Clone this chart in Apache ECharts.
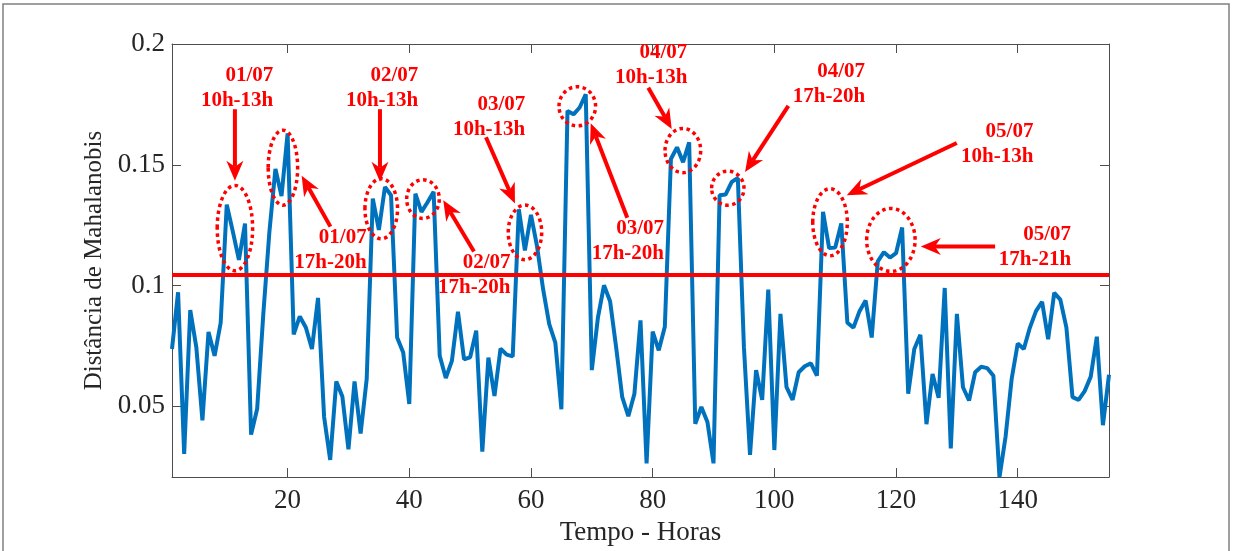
<!DOCTYPE html>
<html><head><meta charset="utf-8">
<script src="https://cdn.jsdelivr.net/npm/echarts@6/dist/echarts.min.js"></script>
<style>html,body{margin:0;padding:0;background:#fff}#c{width:1233px;height:551px}</style>
</head><body><div id="c"></div>
<script>
// ---- data ----
const distance = [
  0.0737,0.0972,0.0303,0.0898,0.0744,0.0442,0.0808,0.0709,0.0846,0.1335,
  0.1223,0.1106,0.1257,0.0383,0.0490,0.0880,0.1220,0.1483,0.1370,0.1630,
  0.0798,0.0872,0.0826,0.0737,0.0949,0.0456,0.0278,0.0603,0.0541,0.0322,
  0.0603,0.0387,0.0613,0.1360,0.1230,0.1408,0.1374,0.0785,0.0723,0.0510,
  0.1380,0.1305,0.1345,0.1388,0.0709,0.0617,0.0688,0.0892,0.0695,0.0703,
  0.0813,0.0312,0.0702,0.0543,0.0739,0.0714,0.0707,0.1316,0.1145,0.1293,
  0.1162,0.0984,0.0840,0.0764,0.0488,0.1723,0.1709,0.1737,0.1792,0.0650,
  0.0867,0.1001,0.0935,0.0744,0.0538,0.0459,0.0552,0.0856,0.0264,0.0809,
  0.0732,0.0829,0.1524,0.1572,0.1511,0.1593,0.0428,0.0497,0.0435,0.0264,
  0.1374,0.1377,0.1429,0.1445,0.0744,0.0299,0.0650,0.0527,0.0983,0.0319,
  0.0883,0.0579,0.0527,0.0641,0.0666,0.0678,0.0627,0.1305,0.1155,0.1157,
  0.1257,0.0846,0.0826,0.0894,0.0938,0.0785,0.1100,0.1138,0.1116,0.1134,
  0.1240,0.0552,0.0737,0.0796,0.0426,0.0634,0.0535,0.0990,0.0326,0.0883,
  0.0579,0.0524,0.0641,0.0664,0.0658,0.0627,0.0207,0.0374,0.0613,0.0760,
  0.0737,0.0826,0.0894,0.0933,0.0778,0.0970,0.0942,0.0826,0.0538,0.0527,
  0.0563,0.0623,0.0788,0.0422,0.0631
];
const threshold = [0.1044];
const xRange = [1, 155];
const yRange = [0.0207, 0.2];
const xTicks = [20, 40, 60, 80, 100, 120, 140];
const yTicks = [0.05, 0.1, 0.15, 0.2];
const labelTexts = ['01/07\n10h-13h','01/07\n17h-20h','02/07\n10h-13h','02/07\n17h-20h','03/07\n10h-13h',
                    '03/07\n17h-20h','04/07\n10h-13h','04/07\n17h-20h','05/07\n10h-13h','05/07\n17h-21h'];

// ---- annotation placement (data coordinates) ----
const ellipses = [ // cx, cy, rx, ry
  [11.34,0.1238,2.91,0.01767],[19.23,0.1488,2.42,0.01553],[35.39,0.1318,2.68,0.01245],
  [42.25,0.1358,2.68,0.00801],[59.01,0.1220,2.75,0.0113],[67.61,0.1742,3.01,0.0081],
  [84.96,0.1559,2.93,0.00916],[92.35,0.1403,2.66,0.00707],[109.15,0.1262,2.84,0.01389],
  [119.15,0.1189,3.98,0.01303]
];
const arrows = [ // x0,y0 -> x1,y1 (tip)
  [11.34,0.173,11.34,0.1434],[27.04,0.1244,22.31,0.1455],[35.18,0.173,35.18,0.143],
  [50.63,0.1141,45.58,0.1353],[52.6,0.1614,57.37,0.134],[75.83,0.1281,69.82,0.1672],
  [79.28,0.1819,83.13,0.1648],[102.3,0.1744,95.18,0.147],[129.98,0.159,111.9,0.1374],
  [136.28,0.1162,124.07,0.1162]
];
const labelPos = [ // right edge x, middle y
  [17.64,0.1818],[32.99,0.1146],[41.47,0.1818],[56.63,0.1044],[59.06,0.1697],
  [81.87,0.1185],[85.7,0.1914],[114.91,0.1834],[142.58,0.1585],[148.77,0.116]
];

const FONT = '"Liberation Serif","DejaVu Serif",serif';
const AX = '#4d4d4d';
const chart = echarts.init(document.getElementById('c'));

function xAx(pos, show) {
  return {
    type: 'value', position: pos, min: xRange[0], max: xRange[1],
    axisLine: {show: true, onZero: false, lineStyle: {color: AX, width: 1}},
    axisTick: {show: true, inside: true, length: 9, customValues: xTicks, lineStyle: {color: AX}},
    axisLabel: {show: show, customValues: xTicks, margin: 10, color: '#262626', fontFamily: FONT, fontSize: 27},
    splitLine: {show: false},
    name: show ? 'Tempo - Horas' : '', nameLocation: 'middle', nameGap: 38,
    nameTextStyle: {color: '#262626', fontFamily: FONT, fontSize: 27}
  };
}
function yAx(pos, show) {
  return {
    type: 'value', position: pos, min: yRange[0], max: yRange[1],
    axisLine: {show: true, onZero: false, lineStyle: {color: AX, width: 1}},
    axisTick: {show: true, inside: true, length: 9, customValues: yTicks, lineStyle: {color: AX}},
    axisLabel: {show: show, customValues: yTicks, margin: 7, color: '#262626', fontFamily: FONT, fontSize: 27},
    splitLine: {show: false},
    name: show ? 'Distância de Mahalanobis' : '', nameLocation: 'middle', nameGap: 62,
    nameTextStyle: {color: '#262626', fontFamily: FONT, fontSize: 25}
  };
}

chart.setOption({
  animation: false,
  backgroundColor: '#fff',
  grid: {left: 172, top: 44, right: 124, bottom: 70, containLabel: false},
  xAxis: [xAx('bottom', true), xAx('top', false)],
  yAxis: [yAx('left', true), yAx('right', false)],
  series: [
    {type: 'line', xAxisIndex: 0, yAxisIndex: 0, showSymbol: false, z: 2,
     lineStyle: {color: '#0072BD', width: 4}, itemStyle: {color: '#0072BD'},
     data: distance.map((v, i) => [i + 1, v])},
    {type: 'line', xAxisIndex: 0, yAxisIndex: 0, showSymbol: false, z: 3,
     lineStyle: {color: '#ff0000', width: 4}, itemStyle: {color: '#ff0000'},
     data: [[xRange[0], threshold[0]], [xRange[1], threshold[0]]]}
  ]
});

const P = (x, y) => chart.convertToPixel({xAxisIndex: 0, yAxisIndex: 0}, [x, y]);
const g = [];
g.push({type: 'rect', silent: true, z: 0, shape: {x: 3, y: 4, width: 1226, height: 600},
        style: {fill: null, stroke: '#808080', lineWidth: 1.5}});
ellipses.forEach(e => {
  const c = P(e[0], e[1]);
  const rx = P(e[0] + e[2], e[1])[0] - c[0];
  const ry = c[1] - P(e[0], e[1] + e[3])[1];
  g.push({type: 'ellipse', z: 110, shape: {cx: c[0], cy: c[1], rx: rx, ry: ry},
          style: {fill: null, stroke: '#ff0000', lineWidth: 3.5, lineDash: [3.5, 3.5]}});
});
arrows.forEach(a => {
  const p0 = P(a[0], a[1]), p1 = P(a[2], a[3]);
  const dx = p1[0] - p0[0], dy = p1[1] - p0[1];
  const L = Math.hypot(dx, dy), ux = dx / L, uy = dy / L, nx = -uy, ny = ux;
  const hl = 20, hw = 8.5, notch = 14;
  const bx = p1[0] - ux * hl, by = p1[1] - uy * hl;
  const kx = p1[0] - ux * notch, ky = p1[1] - uy * notch;
  g.push({type: 'line', z: 110, shape: {x1: p0[0], y1: p0[1], x2: kx, y2: ky},
          style: {stroke: '#ff0000', lineWidth: 4}});
  g.push({type: 'polygon', z: 110, shape: {points: [[p1[0], p1[1]], [bx + nx * hw, by + ny * hw], [kx, ky], [bx - nx * hw, by - ny * hw]]},
          style: {fill: '#ff0000'}});
});
labelPos.forEach((p, i) => {
  const q = P(p[0], p[1]);
  g.push({type: 'text', z: 120, x: q[0], y: q[1],
          style: {text: labelTexts[i], align: 'right', verticalAlign: 'middle', lineHeight: 25,
                  font: 'bold 21px ' + FONT, fill: '#ff0000'}});
});
chart.setOption({graphic: g});
</script>
</body></html>
